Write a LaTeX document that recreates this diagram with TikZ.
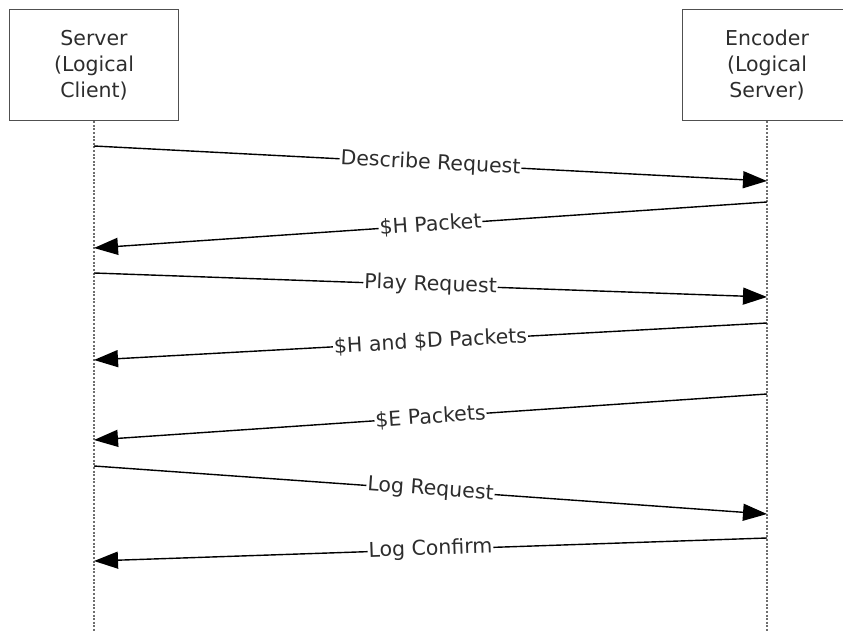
\documentclass[tikz,border=0pt]{standalone}
\usepackage{fontspec}
\setmainfont{DejaVu Sans}
\usetikzlibrary{arrows.meta}
\definecolor{boxGray}{RGB}{80,80,80}
\definecolor{textGray}{RGB}{45,45,45}
\definecolor{dotGray}{RGB}{110,110,110}
\tikzstyle{entityBox} = [draw=boxGray, line width=1.6pt, minimum width=169pt, minimum height=111pt, align=center, font=\fontsize{20.5}{26}\selectfont, text=textGray]
\tikzstyle{lifeLine} = [draw=dotGray, line width=2.6pt, dash pattern=on 2pt off 1.6pt]
\tikzstyle{msgLine} = [draw=black, line width=1.4pt, -{Triangle[length=24pt, width=17pt]}]
\tikzstyle{msgText} = [font=\fontsize{20.5}{24}\selectfont, text=textGray, fill=white, inner sep=1pt, sloped, midway]
\newcommand{\msgArrow}[3]{\draw [msgLine] (#1) -- node [msgText] {#3} (#2);}

\begin{document}
\begin{tikzpicture}[x = 1pt, y = -1pt]
  \useasboundingbox (0,0) rectangle (843,631);
  % participants
  \node [entityBox] (server) at (94,65) {Server\\(Logical\\Client)};
  \node [entityBox] (encoder) at (767,65) {Encoder\\(Logical\\Server)};
  \coordinate (serverEnd) at (94,631);
  \coordinate (encoderEnd) at (767,631);
  \draw [lifeLine] (server.south) -- (serverEnd);
  \draw [lifeLine] (encoder.south) -- (encoderEnd);

  % points on the life lines
  \foreach \name/\y in {s1/146, s2/248, s3/273, s4/360, s5/440, s6/466, s7/561}
    \coordinate (\name) at (94,\y);
  \foreach \name/\y in {e1/181, e2/202, e3/297, e4/323, e5/394, e6/514, e7/538}
    \coordinate (\name) at (767,\y);

  % messages
  \msgArrow{s1}{e1}{Describe Request}
  \msgArrow{e2}{s2}{\$H Packet}
  \msgArrow{s3}{e3}{Play Request}
  \msgArrow{e4}{s4}{\$H and \$D Packets}
  \msgArrow{e5}{s5}{\$E Packets}
  \msgArrow{s6}{e6}{Log Request}
  \msgArrow{e7}{s7}{Log Confirm}
\end{tikzpicture}
\end{document}
